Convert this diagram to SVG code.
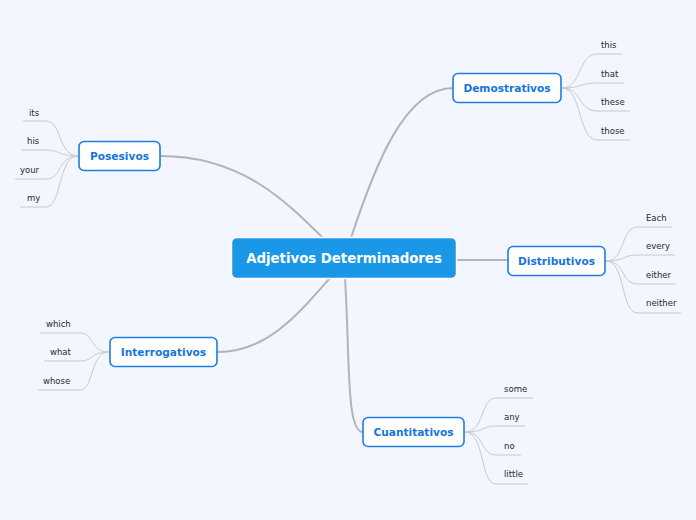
<svg xmlns="http://www.w3.org/2000/svg" width="696" height="520" viewBox="0 0 696 520">
<style>
.main{fill:none;stroke:#b3b3ba;stroke-width:2;stroke-linecap:round}
.sub{fill:none;stroke:#c9c9ce;stroke-width:1}
.topic rect{fill:#ffffff;stroke:#1b7fe3;stroke-width:1.6}
.topic text{font-family:"DejaVu Sans",Verdana,sans-serif;font-weight:bold;font-size:10.6px;fill:#1675dc;text-anchor:middle}
.leaf{font-family:"DejaVu Sans",Verdana,sans-serif;font-size:8.5px;fill:#2a2a2a}
</style>
<rect width="696" height="520" fill="#f3f6fe"/>
<g id="connectors">
<path class="main" d="M351,238 C375,165 405,88 453,88"/>
<path class="main" d="M161,156 C240,156 285,200 323,238"/>
<path class="main" d="M218,352 C268,352 300,312 330,278"/>
<path class="main" d="M345,278 C350,360 346,432 363,432"/>
<path class="main" d="M456,260 L508,260"/>
<path class="sub" d="M562,88 C582,88 578,54 597,54 L622,54"/>
<path class="sub" d="M562,88 C582,88 580,83 597,83 L624,83"/>
<path class="sub" d="M562,88 C582,88 578,111 597,111 L630,111"/>
<path class="sub" d="M562,88 C582,88 578,140 597,140 L630,140"/>
<path class="sub" d="M78,156 C58,156 62,121 46,121 L23,121"/>
<path class="sub" d="M78,156 C58,156 60,150 46,150 L21,150"/>
<path class="sub" d="M78,156 C58,156 62,179 46,179 L15,179"/>
<path class="sub" d="M78,156 C58,156 62,207 46,207 L20,207"/>
<path class="sub" d="M606,261 C626,261 620,227 638,227 L672,227"/>
<path class="sub" d="M606,261 C626,261 622,255 638,255 L675,255"/>
<path class="sub" d="M606,261 C626,261 620,284 638,284 L676,284"/>
<path class="sub" d="M606,261 C626,261 620,313 638,313 L681,313"/>
<path class="sub" d="M109,352 C90,352 94,333 80,333 L40,333"/>
<path class="sub" d="M109,352 C90,352 94,361 80,361 L44,361"/>
<path class="sub" d="M109,352 C90,352 94,390 80,390 L38,390"/>
<path class="sub" d="M465,432 C485,432 480,398 496,398 L533,398"/>
<path class="sub" d="M465,432 C485,432 482,426 496,426 L525,426"/>
<path class="sub" d="M465,432 C485,432 480,455 496,455 L521,455"/>
<path class="sub" d="M465,432 C485,432 480,484 496,484 L528,484"/>
</g>
<g id="central">
<rect x="231.5" y="237.5" width="225" height="41" rx="5" fill="#1a97e6" stroke="#ffffff" stroke-width="1.5"/>
<text x="344" y="263" font-family="DejaVu Sans,Verdana,sans-serif" font-weight="bold" font-size="13.3px" fill="#ffffff" text-anchor="middle">Adjetivos Determinadores</text>
</g>
<g id="demostrativos" class="topic">
<rect x="453" y="73.5" width="108" height="29" rx="5"/>
<text x="507" y="92">Demostrativos</text>
</g>
<g id="demo-leaves">
<text class="leaf" x="601" y="48">this</text>
<text class="leaf" x="601" y="77">that</text>
<text class="leaf" x="601" y="105">these</text>
<text class="leaf" x="601" y="134">those</text>
</g>
<g id="posesivos" class="topic">
<rect x="79" y="141.5" width="81" height="29" rx="5"/>
<text x="119.5" y="160">Posesivos</text>
</g>
<g id="pos-leaves">
<text class="leaf" x="29" y="116">its</text>
<text class="leaf" x="27" y="144">his</text>
<text class="leaf" x="20" y="173">your</text>
<text class="leaf" x="27" y="201">my</text>
</g>
<g id="distributivos" class="topic">
<rect x="508" y="246.5" width="97" height="29" rx="5"/>
<text x="556.5" y="265">Distributivos</text>
</g>
<g id="dist-leaves">
<text class="leaf" x="646" y="221">Each</text>
<text class="leaf" x="646" y="249">every</text>
<text class="leaf" x="646" y="278">either</text>
<text class="leaf" x="646" y="306">neither</text>
</g>
<g id="interrogativos" class="topic">
<rect x="110" y="337.5" width="107" height="29" rx="5"/>
<text x="163.5" y="356">Interrogativos</text>
</g>
<g id="int-leaves">
<text class="leaf" x="46" y="327">which</text>
<text class="leaf" x="50" y="355">what</text>
<text class="leaf" x="43" y="384">whose</text>
</g>
<g id="cuantitativos" class="topic">
<rect x="363" y="417.5" width="101" height="29" rx="5"/>
<text x="413.5" y="436">Cuantitativos</text>
</g>
<g id="cuan-leaves">
<text class="leaf" x="504" y="392">some</text>
<text class="leaf" x="504" y="420">any</text>
<text class="leaf" x="504" y="449">no</text>
<text class="leaf" x="504" y="477">little</text>
</g>
</svg>
